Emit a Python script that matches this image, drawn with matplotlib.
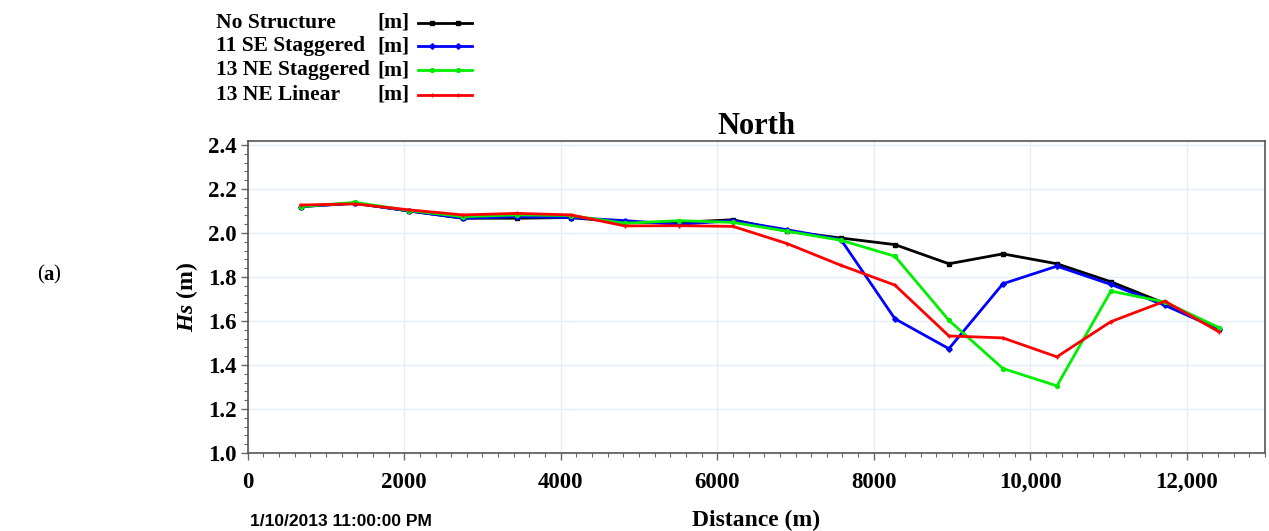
import matplotlib
matplotlib.use("Agg")
import matplotlib.pyplot as plt
from matplotlib.lines import Line2D
from matplotlib.ticker import MultipleLocator, FuncFormatter

plt.rcParams["mathtext.fontset"] = "custom"
plt.rcParams["mathtext.rm"] = "Liberation Serif:bold"
plt.rcParams["mathtext.it"] = "Liberation Serif:italic:bold"
plt.rcParams["mathtext.bf"] = "Liberation Serif:bold"
plt.rcParams["mathtext.bfit"] = "Liberation Serif:italic:bold"

distance = [680, 1370, 2060, 2750, 3440, 4130, 4820, 5510, 6200,
            6890, 7580, 8270, 8960, 9650, 10340, 11030, 11720, 12410]
no_structure = [2.120, 2.135, 2.100, 2.067, 2.067, 2.070, 2.048, 2.048, 2.060,
                2.008, 1.977, 1.947, 1.860, 1.905, 1.860, 1.778, 1.680, 1.562]
se11_staggered = [2.120, 2.135, 2.100, 2.067, 2.074, 2.070, 2.056, 2.039, 2.056,
                  2.015, 1.970, 1.610, 1.474, 1.769, 1.849, 1.766, 1.671, 1.562]
ne13_staggered = [2.120, 2.139, 2.102, 2.074, 2.082, 2.079, 2.044, 2.056, 2.048,
                  2.008, 1.967, 1.894, 1.603, 1.384, 1.305, 1.736, 1.686, 1.570]
ne13_linear = [2.127, 2.132, 2.105, 2.082, 2.089, 2.082, 2.032, 2.033, 2.030,
               1.952, 1.853, 1.763, 1.532, 1.523, 1.437, 1.597, 1.690, 1.551]
series_names = ["No Structure", "11 SE Staggered", "13 NE Staggered", "13 NE Linear"]
series_colors = ["#000000", "#0000ff", "#00ee00", "#ff0000"]
series_markers = ["s", "D", "o", "+"]
x_ticks = [0, 2000, 4000, 6000, 8000, 10000, 12000]
y_ticks = [1.0, 1.2, 1.4, 1.6, 1.8, 2.0, 2.2, 2.4]

serif = ["Liberation Serif", "DejaVu Serif"]

fig = plt.figure(figsize=(12.69, 5.31), dpi=100)
ax = fig.add_axes([0.1952, 0.1469, 0.8017, 0.5876])

all_series = [no_structure, se11_staggered, ne13_staggered, ne13_linear]
for vals, col, mk in zip(all_series, series_colors, series_markers):
    ax.plot(distance, vals, color=col, lw=2.0, marker=mk, ms=2.8,
            markeredgewidth=1.0, markeredgecolor=col)

ax.set_xlim(0, 13000)
ax.set_ylim(1.0, 2.418)
ax.set_xticks(x_ticks)
ax.set_yticks(y_ticks)
ax.xaxis.set_minor_locator(MultipleLocator(200))
ax.yaxis.set_minor_locator(MultipleLocator(0.04))

def xfmt(v, pos):
    v = int(round(v))
    return f"{v:,}" if v >= 10000 else str(v)

ax.xaxis.set_major_formatter(FuncFormatter(xfmt))
ax.yaxis.set_major_formatter(FuncFormatter(lambda v, p: f"{v:.1f}"))
for lab in ax.get_xticklabels():
    lab.set_fontfamily(serif)
    lab.set_fontweight("bold")
    lab.set_fontsize(16.5)
for lab in ax.get_yticklabels():
    lab.set_fontfamily(serif)
    lab.set_fontweight("bold")
    lab.set_fontsize(16.5)
ax.tick_params(axis="both", which="major", length=5, color="#666666", width=1)
ax.tick_params(axis="both", which="minor", length=3, color="#666666", width=0.8)
ax.tick_params(axis="x", pad=9)
ax.tick_params(axis="y", pad=3)
ax.grid(True, which="major", color="#e4eefa", lw=1.0)
ax.set_axisbelow(True)
for s in ax.spines.values():
    s.set_color("#555555")
    s.set_linewidth(1.2)

ax.set_title("North", fontfamily=serif, fontweight="bold", fontsize=22, pad=5)
ax.set_xlabel("Distance (m)", fontfamily=serif, fontweight="bold", fontsize=17, labelpad=12)
ax.set_ylabel(r"$\mathbfit{Hs}$ (m)", fontfamily=serif, fontweight="bold", fontsize=17,
              labelpad=6)

fig.text(250 / 1269, 1 - 521 / 531, "1/10/2013 11:00:00 PM", fontfamily="Liberation Sans",
         fontweight="bold", fontsize=12.5, va="center", ha="left")
fig.text(37 / 1269, 1 - 275 / 531, "(", fontfamily=serif, fontsize=15, va="center", ha="left")
fig.text(43 / 1269, 1 - 275 / 531, "a", fontfamily=serif, fontsize=15, fontweight="bold",
         va="center", ha="left")
fig.text(53 / 1269, 1 - 275 / 531, ")", fontfamily=serif, fontsize=15, va="center", ha="left")

# legend block
row_y = [23, 46, 70, 95]
for name, col, mk, yy in zip(series_names, series_colors, series_markers, row_y):
    fy = 1 - yy / 531
    fig.text(216 / 1269, fy, name, fontfamily=serif, fontweight="bold", fontsize=15.5,
             va="center", ha="left")
    fig.text(377 / 1269, fy, "[m]", fontfamily=serif, fontweight="bold", fontsize=15.5,
             va="center", ha="left")
    fig.add_artist(Line2D([418 / 1269, 432 / 1269, 458 / 1269, 472 / 1269], [fy] * 4,
                          color=col, lw=2.0, marker=mk, ms=2.8, markevery=[1, 2],
                          markeredgecolor=col, markeredgewidth=1.0,
                          transform=fig.transFigure))

fig.savefig("out.png", dpi=100)
